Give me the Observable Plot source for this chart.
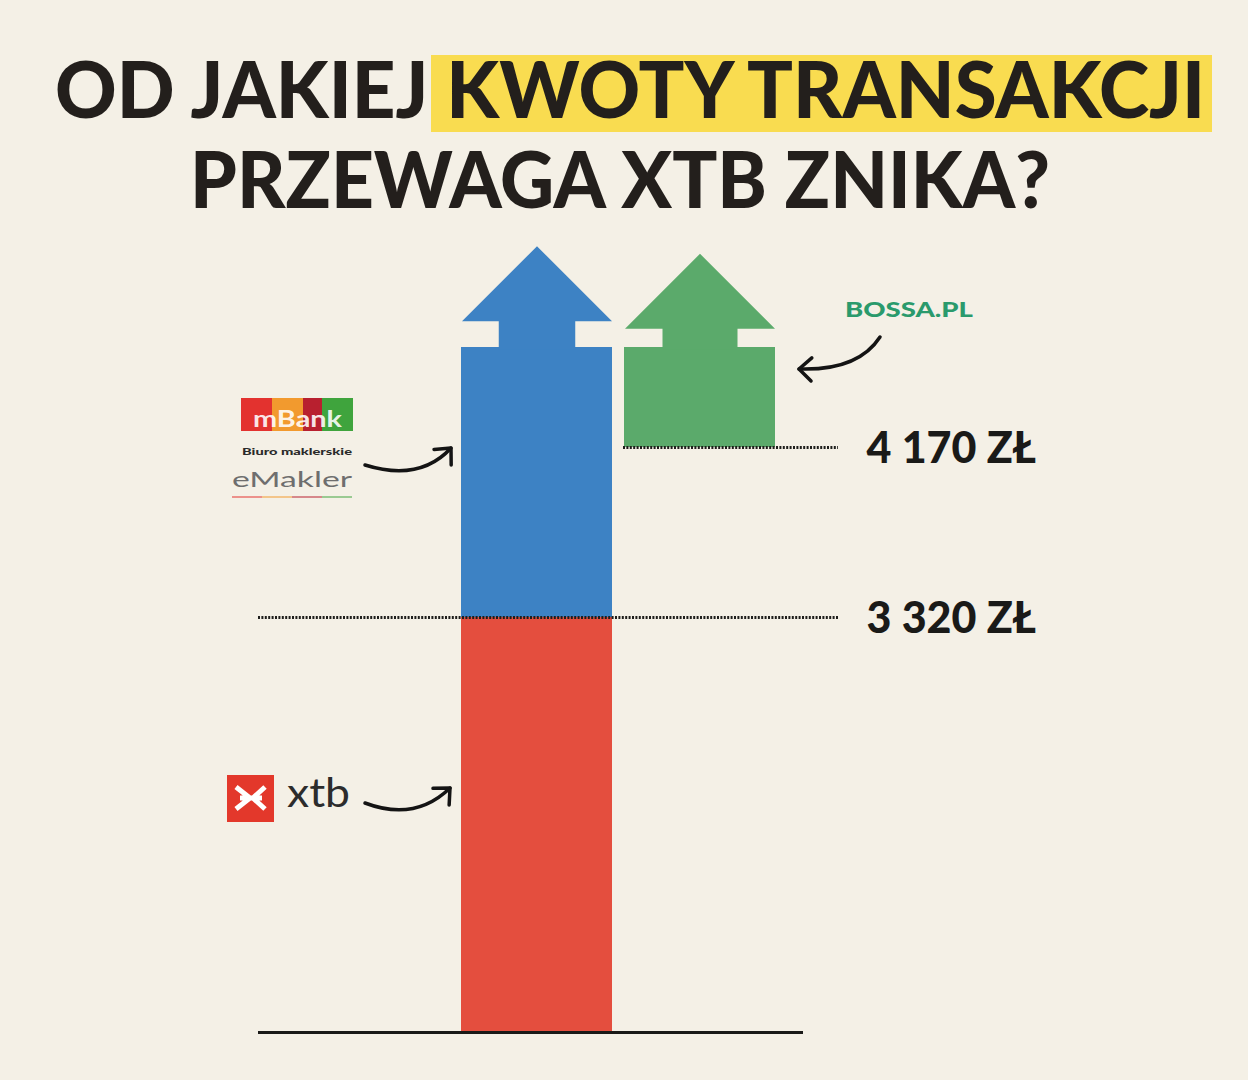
<!DOCTYPE html>
<html>
<head>
<meta charset="utf-8">
<script src="https://cdn.jsdelivr.net/npm/d3@7"></script>
<script src="https://cdn.jsdelivr.net/npm/@observablehq/plot@0.6"></script>
<style>
html, body { margin: 0; padding: 0; background: #f4f0e6; }
#wrap { width: 1248px; height: 1080px; position: relative; overflow: hidden; background: #f4f0e6; }
#title { position: absolute; left: 0; top: 0; width: 1248px; height: 230px; font-family: Lato, "Open Sans", sans-serif; font-weight: 900; color: #231f1c; }
.line { position: absolute; white-space: nowrap; font-size: 78px; line-height: 78px; transform-origin: 0 0; }
#hl { position: absolute; background: #f9dc50; }
#chart { position: absolute; left: 0; top: 230px; }
</style>
</head>
<body>
<div id="wrap">
  <div id="title">
    <div id="hl"></div>
    <div class="line" id="l1">OD JAKIEJ <span id="hlText">KWOTY TRANSAKCJI</span></div>
    <div class="line" id="l2">PRZEWAGA XTB ZNIKA?</div>
  </div>
  <div id="chart"></div>
</div>
<script>
// ---- data ----
const columns = ["XTB → mBank", "BOSSA"];
const brokers = ["XTB", "mBank eMakler", "BOSSA.PL"];
const brokerColumn = ["XTB → mBank", "XTB → mBank", "BOSSA"];
const rangeFrom = [0, 3320, 4170];
const openTop = 4670; // top of the chart: ranges above thresholds are open-ended
const rangeTo = [3320, openTop, openTop];
const openEnded = [false, true, true];
const brokerColors = ["#e44e3e", "#3d82c4", "#5baa6b"];
const thresholds = [3320, 4170];
const currency = "ZŁ";

const table = brokers.map((b, i) => ({
  broker: b, column: brokerColumn[i], from: rangeFrom[i], to: rangeTo[i], open: openEnded[i]
}));
const fmt = v => d3.format(",")(v).replace(/,/g, " ") + " " + currency;

// ---- title layout ----
function fitLine(id, left, right, baseline) {
  const el = document.getElementById(id);
  const w = el.getBoundingClientRect().width;
  const s = (right - left) / w;
  el.style.left = left + "px";
  el.style.top = (baseline - 69.2) + "px";
  el.style.transform = `scaleX(${s})`;
}
fitLine("l1", 55, 1205, 118);
fitLine("l2", 190, 1050, 208);
{
  const r = document.getElementById("hlText").getBoundingClientRect();
  const hl = document.getElementById("hl");
  hl.style.left = (r.left - 15) + "px";
  hl.style.width = (r.width + 22) + "px";
  hl.style.top = "55px";
  hl.style.height = "77px";
}

// ---- arrowhead symbols ----
function arrowHead(neck, neckHalf) {
  return {
    draw(context, size) {
      const r = Math.sqrt(size / Math.PI);
      context.moveTo(-neckHalf * r, 2);
      context.lineTo(-neckHalf * r, -neck * r);
      context.lineTo(-r, -neck * r);
      context.lineTo(0, -(neck + 1) * r);
      context.lineTo(r, -neck * r);
      context.lineTo(neckHalf * r, -neck * r);
      context.lineTo(neckHalf * r, 2);
      context.closePath();
    }
  };
}

const chart = Plot.plot({
  width: 1248,
  height: 850,
  marginLeft: 460,
  marginRight: 473,
  marginTop: 0,
  marginBottom: 0,
  style: { background: "transparent", overflow: "visible" },
  x: { type: "band", domain: columns, paddingInner: 0.074, paddingOuter: 0, axis: null },
  y: { type: "linear", domain: [0, 3320, openTop], range: [802, 387, 117], axis: null },
  color: { domain: brokers, range: brokerColors },
  marks: [
    Plot.barY(table, { x: "column", y1: "from", y2: "to", fill: "broker" }),
    Plot.dot(table.filter(d => d.broker === "mBank eMakler"), {
      x: "column", y: "to", r: 75, fill: "broker", stroke: null, symbol: arrowHead(0.35, 0.51)
    }),
    Plot.dot(table.filter(d => d.broker === "BOSSA.PL"), {
      x: "column", y: "to", r: 75, fill: "broker", stroke: null, symbol: arrowHead(0.25, 0.5)
    }),
    Plot.ruleY([0], { stroke: "#1a1a18", strokeWidth: 3, insetLeft: -202, insetRight: -28 }),
    Plot.ruleY([thresholds[0]], { stroke: "#1e1e1c", strokeWidth: 3.2, strokeDasharray: "2,1.4", insetLeft: -202, insetRight: -63 }),
    Plot.ruleY([thresholds[1]], { stroke: "#1e1e1c", strokeWidth: 3.2, strokeDasharray: "2,1.4", insetLeft: 163, insetRight: -63 }),
    Plot.text(thresholds, {
      y: d => d, text: fmt, frameAnchor: "right", textAnchor: "start", dx: 91, dy: 2,
      fontSize: 43, fontWeight: 900, fontFamily: "Lato, sans-serif", fill: "#1a1a18"
    })
  ]
});
document.getElementById("chart").appendChild(chart);

// ---- logo annotations ----
const svg = d3.select(chart);
const g = svg.append("g").attr("text-anchor", "start");

function curvedArrow(S, C, E) {
  g.append("path")
    .attr("d", `M${S[0]},${S[1]} Q${C[0]},${C[1]} ${E[0]},${E[1]}`)
    .attr("fill", "none").attr("stroke", "#141414").attr("stroke-width", 3.5).attr("stroke-linecap", "round");
  const a = Math.atan2(E[1] - C[1], E[0] - C[0]);
  const L = 17, spread = 0.75;
  const p1 = [E[0] - L * Math.cos(a - spread), E[1] - L * Math.sin(a - spread)];
  const p2 = [E[0] - L * Math.cos(a + spread), E[1] - L * Math.sin(a + spread)];
  g.append("path")
    .attr("d", `M${p1[0]},${p1[1]} L${E[0]},${E[1]} L${p2[0]},${p2[1]}`)
    .attr("fill", "none").attr("stroke", "#141414").attr("stroke-width", 3.5)
    .attr("stroke-linecap", "round").attr("stroke-linejoin", "round");
}

// mBank eMakler
const mb = [[241, 31, "#e3322f"], [272, 31, "#f29a2e"], [303, 19, "#b8202f"], [322, 31, "#3fa43d"]];
mb.forEach(([x, w, c]) => g.append("rect").attr("x", x).attr("y", 168).attr("width", w).attr("height", 33).attr("fill", c));
g.append("text").attr("x", 253).attr("y", 197).attr("text-anchor", "start")
  .attr("font-family", "Lato, sans-serif").attr("font-weight", 700).attr("font-size", 22)
  .attr("textLength", 89).attr("lengthAdjust", "spacingAndGlyphs")
  .attr("fill", "#ffffff").attr("fill-opacity", 0.9).text("mBank");
g.append("text").attr("x", 242).attr("y", 225).attr("text-anchor", "start")
  .attr("font-family", "Lato, sans-serif").attr("font-weight", 900).attr("font-size", 9)
  .attr("textLength", 110).attr("lengthAdjust", "spacingAndGlyphs")
  .attr("fill", "#2a2a2a").text("Biuro maklerskie");
g.append("text").attr("x", 232).attr("y", 257).attr("text-anchor", "start")
  .attr("font-family", "Lato, sans-serif").attr("font-weight", 400).attr("font-size", 21)
  .attr("textLength", 120).attr("lengthAdjust", "spacingAndGlyphs")
  .attr("fill", "#6e6e6e").text("eMakler");
[[232, 30, "#e3322f"], [262, 30, "#f29a2e"], [292, 30, "#b8202f"], [322, 30, "#3fa43d"]]
  .forEach(([x, w, c]) => g.append("rect").attr("x", x).attr("y", 266).attr("width", w).attr("height", 2).attr("fill", c).attr("opacity", 0.5));
curvedArrow([365, 235], [420, 252], [451, 218]);

// xtb
g.append("rect").attr("x", 227).attr("y", 545).attr("width", 47).attr("height", 47).attr("fill", "#e3382b");
g.append("path").attr("d", "M236,557 L250,568 L236,579 M265,557 L253,568 L265,579 M240,568 L262,568")
  .attr("fill", "none").attr("stroke", "#ffffff").attr("stroke-width", 5).attr("stroke-linejoin", "miter");
g.append("text").attr("x", 287).attr("y", 577).attr("text-anchor", "start")
  .attr("font-family", "Lato, sans-serif").attr("font-weight", 400).attr("font-size", 40)
  .attr("textLength", 63).attr("lengthAdjust", "spacingAndGlyphs")
  .attr("fill", "#2c2c2c").text("xtb");
curvedArrow([365, 573], [415, 592], [450, 558]);

// BOSSA.PL
g.append("text").attr("x", 845).attr("y", 87).attr("text-anchor", "start")
  .attr("font-family", "Lato, sans-serif").attr("font-weight", 900).attr("font-size", 21)
  .attr("textLength", 128).attr("lengthAdjust", "spacingAndGlyphs")
  .attr("fill", "#2a9a6c").text("BOSSA.PL");
curvedArrow([880, 107], [858, 141], [799, 139]);
</script>
</body>
</html>
